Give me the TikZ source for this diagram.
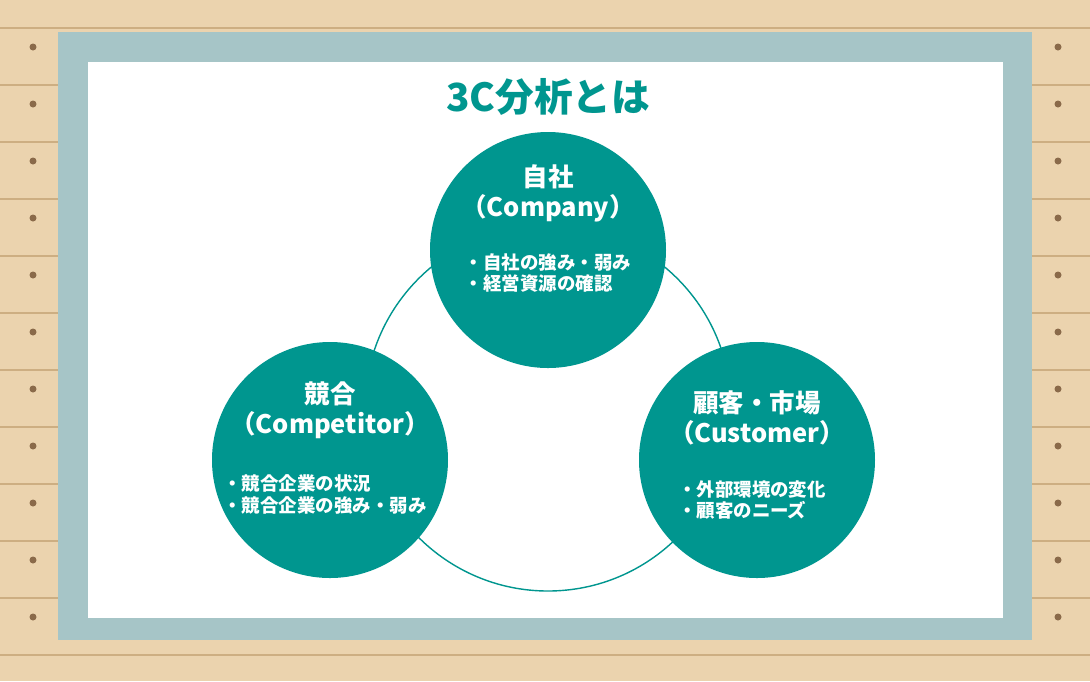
\documentclass[tikz,border=0pt]{standalone}
\usepackage{fontspec}
\setmainfont{Noto Sans CJK JP}
\definecolor{wood}{HTML}{EBD3AE}
\definecolor{plank}{HTML}{CDAE82}
\definecolor{nail}{HTML}{8A6A4A}
\definecolor{frame}{HTML}{A6C5C7}
\definecolor{teal}{HTML}{00968F}
\tikzset{
  pt/.style={x={(0.02cm,0)},y={(0,-0.02cm)}},
  bubble/.style={circle,fill=teal,minimum size=236*0.02cm,inner sep=0pt},
  head/.style={text=white,font=\fontsize{14.5}{17}\selectfont\bfseries,align=center},
  items/.style={text=white,font=\fontsize{10.5}{12.5}\selectfont\bfseries,align=left}
}
\begin{document}
\begin{tikzpicture}[pt]
  \useasboundingbox (0,0) rectangle (1090,681);
  \fill [wood] (0,0) rectangle (1090,681);
  \foreach \y in {28,85,142,199,256,313,370,427,484,541,598,655}
    \draw [plank,line width=1.2pt] (0,\y) -- (1090,\y);
  \foreach \y in {47,104,161,218,275,332,389,446,503,560,617}
  {
    \fill [nail] (33,\y) circle (3.5);
    \fill [nail] (1058,\y) circle (3.5);
  }
  \fill [frame] (58,32) rectangle (1032,640);
  \fill [white] (88,62) rectangle (1003,618);
  \node [text=teal,font=\fontsize{22}{26}\selectfont\bfseries] (title) at (548,97) {3C分析とは};
  \draw [teal,line width=0.8pt] (548,408) circle (183);
  \node [bubble] (company) at (548,250) {};
  \node [bubble] (competitor) at (330,460) {};
  \node [bubble] (customer) at (757,460) {};
  \node [head] (companyhead) at (548,193) {自社\\（Company）};
  \node [items] (companyitems) at (548,273) {・自社の強み・弱み\\・経営資源の確認};
  \node [head] (competitorhead) at (330,410) {競合\\（Competitor）};
  \node [items] (competitoritems) at (325,494) {・競合企業の状況\\・競合企業の強み・弱み};
  \node [head] (customerhead) at (757,418) {顧客・市場\\（Customer）};
  \node [items] (customeritems) at (752,500) {・外部環境の変化\\・顧客のニーズ};
\end{tikzpicture}
\end{document}
